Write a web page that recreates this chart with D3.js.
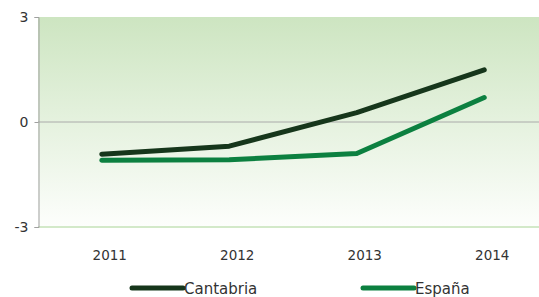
<!DOCTYPE html>
<html lang="en">
<head>
<meta charset="UTF-8">
<title>Cantabria vs España</title>
<script src="https://d3js.org/d3.v7.min.js"></script>
<style>
  body { margin: 0; background: #fff; }
  text { font-family: "DejaVu Sans", sans-serif; fill: #333; }
</style>
</head>
<body>
<svg id="chart" width="539" height="297"></svg>
<script>
    const years = ["2011", "2012", "2013", "2014"];
    const cantabria = [-0.92, -0.69, 0.27, 1.49];
    const espana = [-1.09, -1.08, -0.90, 0.70];
    const yTicks = [-3, 0, 3];
    const seriesNames = ["Cantabria", "España"];
    const seriesColors = ["#16361b", "#0c8040"];

    const svg = d3.select("#chart");
    const plotLeft = 38, plotTop = 17, plotBottom = 227, plotRight = 548;

    const x = d3.scaleBand().domain(years).range([plotLeft, plotRight]);
    const y = d3.scaleLinear().domain([-3, 3]).range([plotBottom, plotTop]);

    // background gradient
    const grad = svg.append("defs").append("linearGradient")
        .attr("id", "bg").attr("x1", 0).attr("y1", 0).attr("x2", 0).attr("y2", 1);
    grad.append("stop").attr("offset", "0%").attr("stop-color", "#cde5c1");
    grad.append("stop").attr("offset", "100%").attr("stop-color", "#fdfefc");

    svg.append("rect")
        .attr("x", plotLeft).attr("y", plotTop)
        .attr("width", plotRight - plotLeft).attr("height", plotBottom - plotTop)
        .attr("fill", "url(#bg)");

    // bottom edge
    svg.append("line")
        .attr("x1", plotLeft).attr("x2", plotRight)
        .attr("y1", y(-3)).attr("y2", y(-3))
        .attr("stroke", "#d3e9c9").attr("stroke-width", 2);

    // zero line
    svg.append("line")
        .attr("x1", plotLeft).attr("x2", plotRight)
        .attr("y1", y(0)).attr("y2", y(0))
        .attr("stroke", "#aaaaaa").attr("stroke-width", 1);

    // y axis
    const yAxis = svg.append("g")
        .attr("transform", "translate(" + (plotLeft + 0.5) + ",0)")
        .call(d3.axisLeft(y).tickValues(yTicks).tickSize(4).tickPadding(6).tickFormat(d => String(d)));
    yAxis.select(".domain").attr("stroke", "#a0a0a0");
    yAxis.selectAll(".tick line").attr("stroke", "#a0a0a0");
    yAxis.selectAll("text").style("font-size", "14px").style("font-family", "DejaVu Sans").attr("fill", "#333");

    // x labels
    svg.selectAll(".xlabel").data(years).join("text")
        .attr("class", "xlabel")
        .attr("x", d => x(d) + x.bandwidth() / 2 + 8)
        .attr("y", 260)
        .attr("text-anchor", "middle")
        .style("font-size", "13.5px")
        .text(d => d);

    // lines
    const line = d3.line()
        .x((d, i) => x(years[i]) + x.bandwidth() / 2)
        .y(d => y(d));

    [cantabria, espana].forEach(function (s, i) {
        svg.append("path")
            .datum(s)
            .attr("d", line)
            .attr("fill", "none")
            .attr("stroke", seriesColors[i])
            .attr("stroke-width", 5)
            .attr("stroke-linecap", "round")
            .attr("stroke-linejoin", "round");
    });

    // legend
    const legendX = [132, 363];
    seriesNames.forEach(function (name, i) {
        svg.append("line")
            .attr("x1", legendX[i]).attr("x2", legendX[i] + 51)
            .attr("y1", 288).attr("y2", 288)
            .attr("stroke", seriesColors[i])
            .attr("stroke-width", 5)
            .attr("stroke-linecap", "round");
        svg.append("text")
            .attr("x", legendX[i] + 52)
            .attr("y", 294)
            .style("font-size", "15px")
            .text(name);
    });
</script>
</body>
</html>
